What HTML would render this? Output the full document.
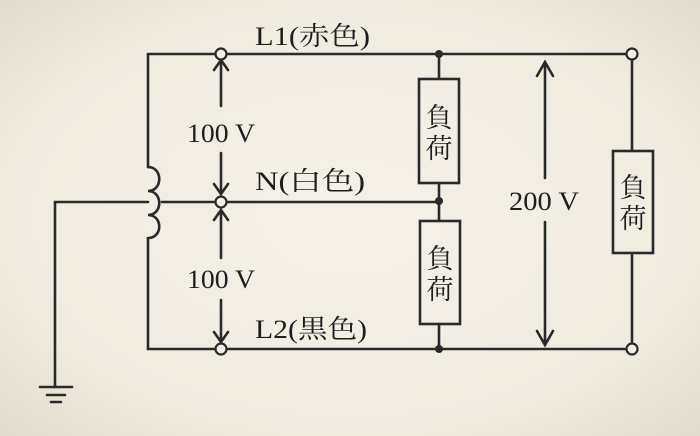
<!DOCTYPE html>
<html><head><meta charset="utf-8"><style>
html,body{margin:0;padding:0;}
body{width:700px;height:436px;overflow:hidden;background:#f1ece0;}
svg{display:block}
text{font-family:"Liberation Serif","Noto Serif CJK SC",serif;fill:#1e1e1e;}
</style></head><body>
<svg width="700" height="436" viewBox="0 0 700 436">
<defs>
<radialGradient id="bg" cx="50%" cy="50%" r="70%">
<stop offset="0" stop-color="#f5f1e7"/><stop offset="0.7" stop-color="#f0ebdf"/><stop offset="1" stop-color="#e2dccd"/>
</radialGradient>
</defs>
<rect width="700" height="436" fill="url(#bg)"/>
<g stroke="#2a2a2a" stroke-width="2.6" fill="none" stroke-linecap="round">
<path d="M148 54 H216 M226 54 H627"/>
<path d="M148 349 H216 M226 349 H627"/>
<path d="M148 54 V167 M148 238 V349"/>
<path d="M148 167 c15 0 15 24 0 24 c15 0 15 24 0 24 c15 0 15 23 0 23"/>
<path d="M162 202 H216 M226 202 H439"/>
<path d="M148 202 H55 V387"/>
<path d="M40 387 H72 M47 395 H65 M51 402 H61"/>
<path d="M439 54 V78 M439 183 V220 M439 324 V349"/>
<rect x="419" y="79" width="40" height="104"/>
<rect x="420" y="221" width="40" height="103"/>
<rect x="613" y="151" width="40" height="102"/>
<path d="M632 59 V151 M632 253 V344"/>
<path d="M221 60 V106 M214 70 L221 60 L228 70"/>
<path d="M221 153 V194 M214 184 L221 194 L228 184"/>
<path d="M221 210 V258 M214 220 L221 210 L228 220"/>
<path d="M221 300 V342 M214 332 L221 342 L228 332"/>
<path d="M545 62 V178 M545 222 V345 M537 76 L545 62 L553 76 M537 331 L545 345 L553 331"/>
</g>
<g stroke="#2a2a2a" stroke-width="2.2" fill="#f3efe4">
<circle cx="221" cy="54" r="5.5"/>
<circle cx="221" cy="202" r="5.5"/>
<circle cx="221" cy="349" r="5.5"/>
<circle cx="632" cy="54" r="5.5"/>
<circle cx="632" cy="349" r="5.5"/>
</g>
<g fill="#2a2a2a">
<circle cx="439" cy="54" r="4"/><circle cx="439" cy="201" r="4"/><circle cx="439" cy="349" r="4"/>
</g>
<text x="255" y="45" font-size="26" textLength="115" lengthAdjust="spacingAndGlyphs">L1(赤色)</text>
<text x="255" y="190" font-size="26" textLength="110" lengthAdjust="spacingAndGlyphs">N(白色)</text>
<text x="255" y="338" font-size="26" textLength="112" lengthAdjust="spacingAndGlyphs">L2(黒色)</text>
<text x="187" y="142" font-size="26" textLength="68" lengthAdjust="spacingAndGlyphs">100 V</text>
<text x="187" y="288" font-size="26" textLength="68" lengthAdjust="spacingAndGlyphs">100 V</text>
<text x="509" y="210" font-size="26" textLength="70" lengthAdjust="spacingAndGlyphs">200 V</text>
<g font-size="27" text-anchor="middle">
<text x="439" y="127">負</text><text x="439" y="158">荷</text>
<text x="440" y="268">負</text><text x="440" y="299">荷</text>
<text x="633" y="197">負</text><text x="633" y="228">荷</text>
</g>
</svg>
</body></html>
